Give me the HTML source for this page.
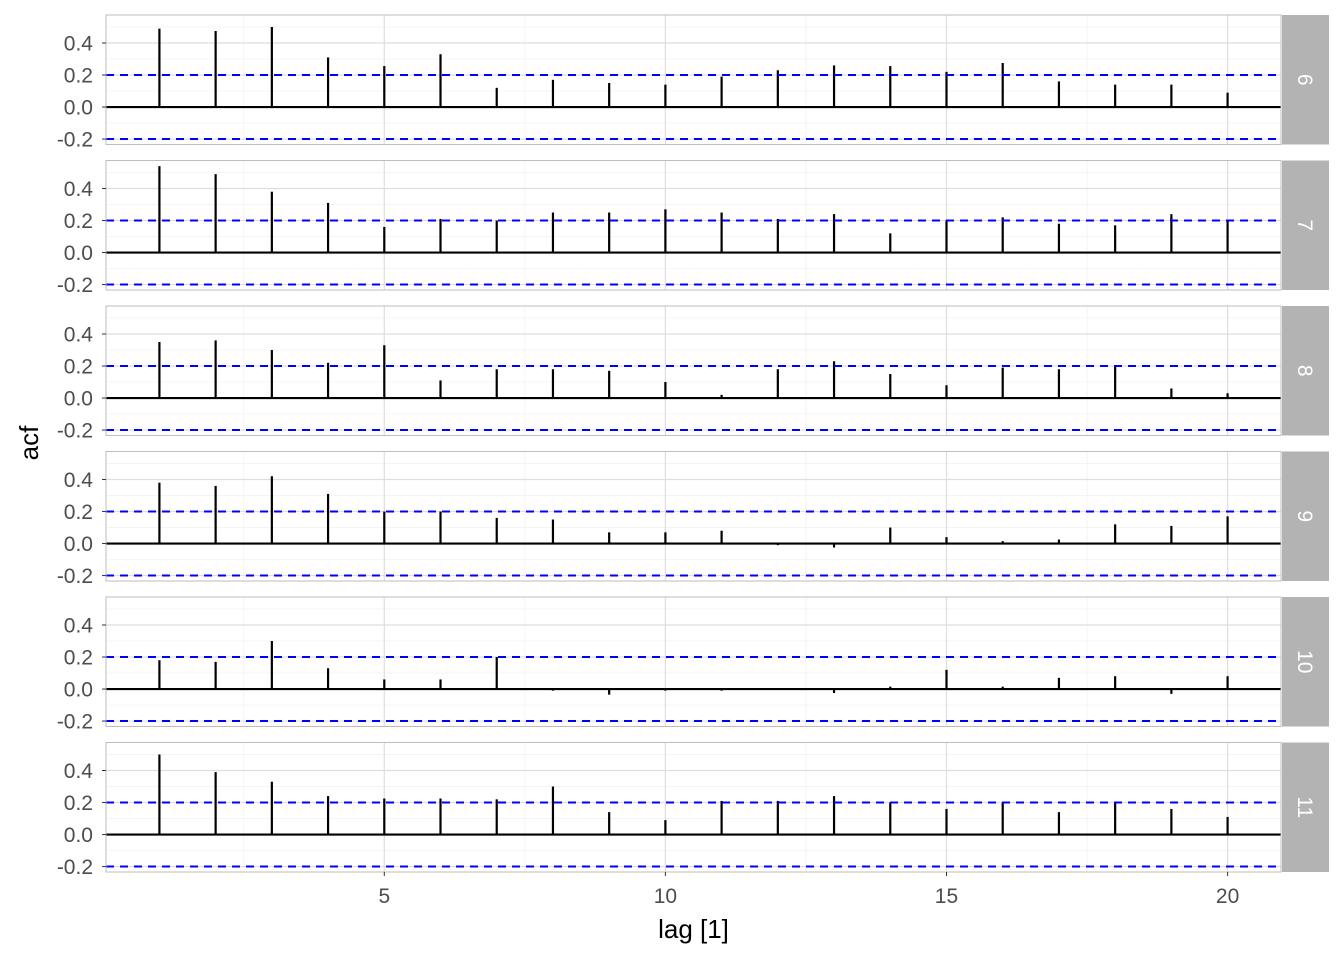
<!DOCTYPE html>
<html><head><meta charset="utf-8"><style>
body{margin:0;background:#fff;}
svg text{font-family:"Liberation Sans",sans-serif;}
.tk{font-size:21px;}
.ti{font-size:26px;}
</style></head><body>
<svg id="c" width="1344" height="960"></svg>
<script>
const facets = ["6","7","8","9","10","11"];
const lags = [1,2,3,4,5,6,7,8,9,10,11,12,13,14,15,16,17,18,19,20];
const acf6 = [0.49,0.475,0.50,0.31,0.256,0.33,0.12,0.17,0.15,0.14,0.19,0.23,0.26,0.256,0.22,0.275,0.16,0.14,0.14,0.09];
const acf7 = [0.54,0.49,0.38,0.31,0.16,0.21,0.2,0.25,0.25,0.27,0.25,0.21,0.24,0.12,0.2,0.22,0.18,0.17,0.24,0.2];
const acf8 = [0.35,0.36,0.30,0.22,0.33,0.11,0.18,0.18,0.17,0.1,0.02,0.18,0.23,0.15,0.08,0.19,0.18,0.2,0.06,0.03];
const acf9 = [0.38,0.36,0.42,0.31,0.2,0.2,0.16,0.15,0.07,0.07,0.08,-0.01,-0.025,0.1,0.04,0.015,0.025,0.12,0.11,0.17];
const acf10 = [0.18,0.17,0.3,0.13,0.06,0.06,0.2,-0.01,-0.035,-0.01,-0.01,0,-0.025,0.015,0.12,0.015,0.07,0.08,-0.03,0.08];
const acf11 = [0.5,0.39,0.33,0.24,0.225,0.225,0.22,0.3,0.14,0.09,0.21,0.21,0.24,0.2,0.16,0.2,0.14,0.2,0.16,0.11];
const series = [acf6,acf7,acf8,acf9,acf10,acf11];
const yTicks = [0.4,0.2,0.0,-0.2];
const yTickLabels = ["0.4","0.2","0.0","-0.2"];
const xTicks = [5,10,15,20];
const ci = 0.2;

const svg = document.getElementById('c');
const NS = 'http://www.w3.org/2000/svg';
function mk(tag, attrs, parent){const e=document.createElementNS(NS,tag);for(const k in attrs)e.setAttribute(k,attrs[k]);(parent||svg).appendChild(e);return e;}
const L=106,R=1281,x0=0.05,x1=20.95;
const xs = v => L+(v-x0)/(x1-x0)*(R-L);
const panelTops=[15,160.5,306,451.5,597,742.5], PH=129.5;
const yMax=0.575, yMin=-0.234;
series.forEach((vals,i)=>{
  const top=panelTops[i], bot=top+PH;
  const ys = v => top+(yMax-v)/(yMax-yMin)*PH;
  const g=mk('g',{});
  
  
  mk('rect',{x:L,y:top,width:R-L,height:PH,fill:'#fff'},g);
  [0.5,0.3,0.1,-0.1].forEach(v=>mk('line',{x1:L,x2:R,y1:ys(v),y2:ys(v),stroke:'#f0f0f0','stroke-width':0.7},g));
  [2.5,7.5,12.5,17.5].forEach(v=>mk('line',{x1:xs(v),x2:xs(v),y1:top,y2:bot,stroke:'#f0f0f0','stroke-width':0.7},g));
  yTicks.forEach(v=>mk('line',{x1:L,x2:R,y1:ys(v),y2:ys(v),stroke:'#dedede','stroke-width':1.2},g));
  xTicks.forEach(v=>mk('line',{x1:xs(v),x2:xs(v),y1:top,y2:bot,stroke:'#dedede','stroke-width':1.2},g));
  vals.forEach((v,j)=>{
    const b=mk('line',{x1:xs(lags[j]),x2:xs(lags[j]),y1:ys(0),y2:ys(v),stroke:'#000','stroke-width':2.2},g);
    
    
  });
  mk('line',{x1:L,x2:R,y1:ys(0),y2:ys(0),stroke:'#000','stroke-width':2.2},g);
  [ci,-ci].forEach(v=>{
    const d=mk('line',{x1:L,x2:R,y1:ys(v),y2:ys(v),stroke:'#0000ff','stroke-width':2,'stroke-dasharray':'8,6'},g);
    
    
  });
  mk('rect',{x:L,y:top,width:R-L,height:PH,fill:'none',stroke:'#bdbdbd','stroke-width':1},g);
  yTicks.forEach((v,k)=>{
    mk('line',{x1:L-4,x2:L,y1:ys(v),y2:ys(v),stroke:'#333','stroke-width':1},g);
    const t=mk('text',{x:L-13,y:ys(v)+7.5,'text-anchor':'end','class':'tk',fill:'#4d4d4d'},g);t.textContent=yTickLabels[k];
  });
  const s=mk('rect',{x:1282,y:top,width:47,height:PH,fill:'#b3b3b3'},g);
  
  
  const cy=top+PH/2;
  const st=mk('text',{x:1305.5,y:cy,'text-anchor':'middle','class':'tk',fill:'#fff',transform:`rotate(90 1305.5 ${cy})`,dy:7.5},g);
  st.textContent=facets[i];
});
const bottom=panelTops[5]+PH;
xTicks.forEach(v=>{
  mk('line',{x1:xs(v),x2:xs(v),y1:bottom,y2:bottom+4,stroke:'#333'});
  const t=mk('text',{x:xs(v),y:bottom+31,'text-anchor':'middle','class':'tk',fill:'#4d4d4d'});t.textContent=v;
  
  
});
const xt=mk('text',{x:693.5,y:938,'text-anchor':'middle','class':'ti',fill:'#000'});xt.textContent='lag [1]';


const yt=mk('text',{x:38,y:443,'text-anchor':'middle','class':'ti',fill:'#000',transform:'rotate(-90 38 443)'});yt.textContent='acf';


</script>
</body></html>
